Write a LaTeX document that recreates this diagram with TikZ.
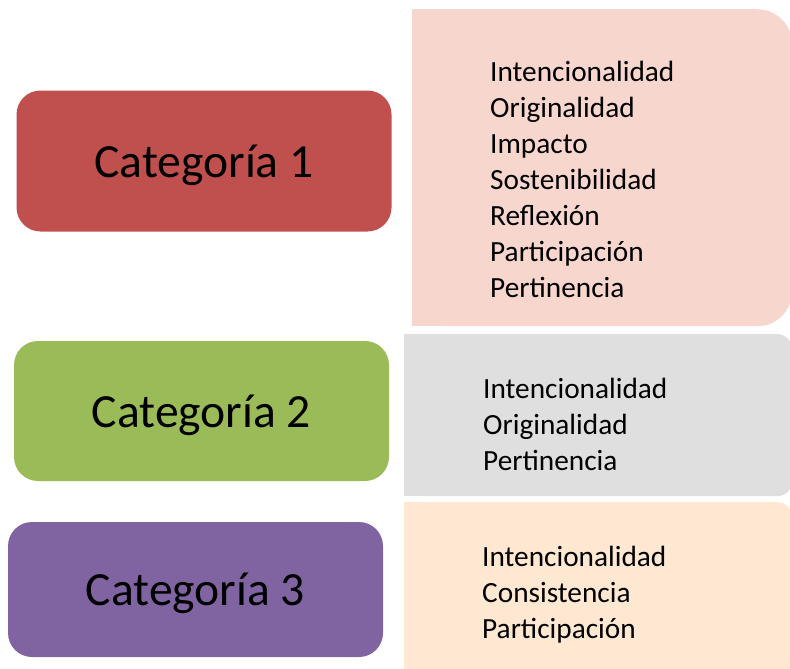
\documentclass[tikz,border=0pt]{standalone}
\usepackage{fontspec}
\setmainfont{Carlito}
\usetikzlibrary{positioning}
\definecolor{catred}{HTML}{C0504D}
\definecolor{catgreen}{HTML}{9BBB59}
\definecolor{catpurple}{HTML}{8064A2}
\definecolor{panelpink}{HTML}{F6D6CD}
\definecolor{panelgray}{HTML}{DFDFDF}
\definecolor{panelpeach}{HTML}{FEE8D2}
\tikzset{%
	catbox/.style   = {rectangle, rounded corners=24pt, minimum width=375pt, minimum height=141pt, text height=40pt, text depth=8pt, text centered, font=\fontsize{47.6}{56}\selectfont},
	panel/.style    = {rectangle, inner sep=0pt, anchor=north west},
	itemlist/.style = {align=left, inner sep=0pt, anchor=west, font=\fontsize{29.3}{36}\selectfont},
}
\begin{document}
\begin{tikzpicture}[x=1pt,y=-1pt]
		\useasboundingbox (0,0) rectangle (790,669);
		\clip (0,0) rectangle (790,669);
		
		% right panels
		\node [panel,fill=panelpink,rounded corners=35pt,minimum width=380pt,minimum height=317pt] (pinkpanel) at (412,9) {};
		\fill [panelpink] (pinkpanel.north west) rectangle ([xshift=100pt]pinkpanel.south west);
		\node [panel,fill=panelgray,rounded corners=15pt,minimum width=388pt,minimum height=162pt] (graypanel) at (404,334) {};
		\fill [panelgray] (graypanel.north west) rectangle ([xshift=100pt]graypanel.south west);
		\node [panel,fill=panelpeach,rounded corners=15pt,minimum width=388pt,minimum height=190pt] (peachpanel) at (404,502) {};
		\fill [panelpeach] (peachpanel.north west) rectangle ([xshift=100pt]peachpanel.south west);
		
		% categories
		\node [catbox,fill=catred] (cat1) at (204,161) {Categoría 1};
		\node [catbox,fill=catgreen,minimum height=140pt] (cat2) at (201.5,411) {Categoría 2};
		\node [catbox,fill=catpurple,minimum height=135pt] (cat3) at (195.5,589.5) {Categoría 3};
		
		% criteria
		\node [itemlist] (list1) at (490,179) {Intencionalidad\\Originalidad\\Impacto\\Sostenibilidad\\Reflexión\\Participación\\Pertinencia};
		\node [itemlist] (list2) at (483,424) {Intencionalidad\\Originalidad\\Pertinencia};
		\node [itemlist] (list3) at (482,595) {Intencionalidad\\Consistencia\\Participación};
\end{tikzpicture}
\end{document}
